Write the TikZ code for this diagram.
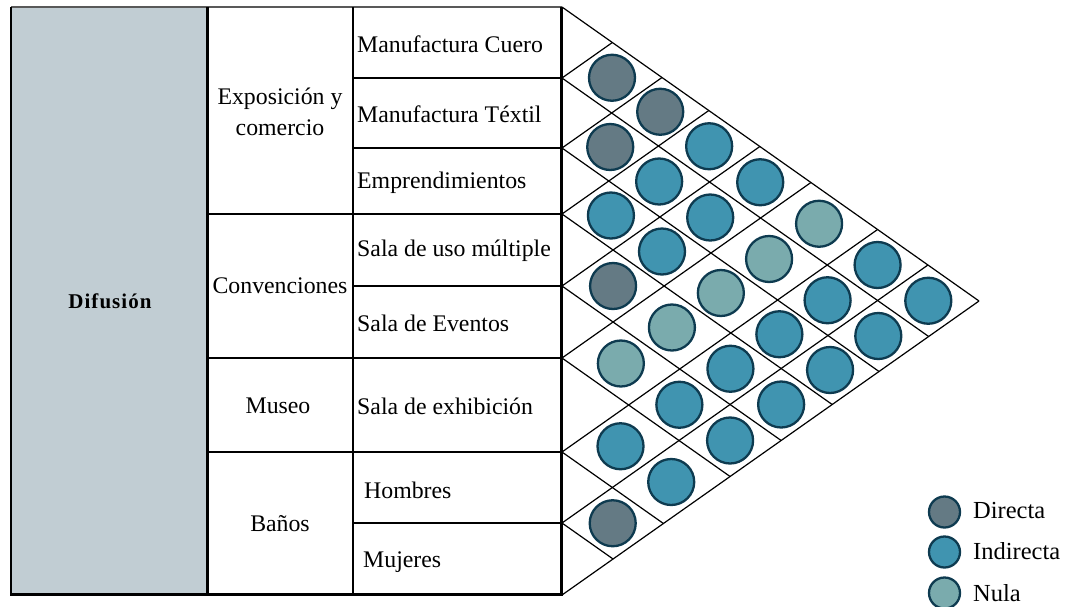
\documentclass[tikz,border=0pt]{standalone}
\usepackage{fontspec}
\setmainfont{Liberation Serif}
\newfontfamily\spacedfont[LetterSpace=5]{Liberation Serif}
\definecolor{colgray}{HTML}{C1CDD3}
\definecolor{cdir}{HTML}{647A84}
\definecolor{cind}{HTML}{4094B0}
\definecolor{cnul}{HTML}{7AABAD}
\definecolor{cedge}{HTML}{0E3B50}
\begin{document}
\begin{tikzpicture}[x=1pt,y=-1pt,
  every node/.style={font=\fontsize{23.8}{31}\selectfont, inner sep=0pt},
  thin line/.style={line width=1.2pt, draw=black},
  thick line/.style={line width=3pt, draw=black},
  gridline/.style={line width=1.2pt, draw=black},
  dot/.style={circle, minimum size=46pt, inner sep=0pt, line width=2.3pt, draw=cedge},
  legdot/.style={circle, minimum size=31pt, inner sep=0pt, line width=2.3pt, draw=cedge},
  dir/.style={dot, fill=cdir},
  ind/.style={dot, fill=cind},
  nul/.style={dot, fill=cnul},
  label text/.style={anchor=west},
  legend text/.style={anchor=west, font=\fontsize{24.5}{28}\selectfont},
]
\useasboundingbox (0,0) rectangle (1072,606);
% gray column
\fill[colgray] (11,7) rectangle (206,594);
\draw[line width=1.2pt, draw=black!65] (11,7) -- (562,7);
\draw[line width=1.6pt] (11,7) -- (11,594);
% column cells
\draw[thin line] (207,214) -- (353,214);
\draw[thin line] (207,358) -- (353,358);
\draw[thin line] (207,452) -- (353,452);
\draw[thin line] (353,7) -- (353,594);
\foreach \y in {78,148,214,286,358,452,523}
  \draw[thin line] (353,\y) -- (562,\y);
\draw[thick line] (207,7) -- (207,594);
\draw[thick line] (561,7) -- (561,596);
\draw[thick line] (10,594.5) -- (562.5,594.5);

% texts
\node[font=\spacedfont\bfseries\fontsize{21}{25}\selectfont] (dif) at (110,301) {Difusión};
\node[align=center] (expo) at (280,112) {Exposición y\\comercio};
\node (conv) at (280,286) {Convenciones};
\node (museo) at (278,406) {Museo};
\node (banos) at (280,524) {Baños};
\node[label text] (r1) at (357,44) {Manufactura Cuero};
\node[label text] (r2) at (357,114) {Manufactura Téxtil};
\node[label text] (r3) at (357,183) {Emprendimientos};
\node[label text] (r4) at (357,251) {Sala de uso múltiple};
\node[label text] (r5) at (357,323) {Sala de Eventos};
\node[label text] (r6) at (357,406) {Sala de exhibición};
\node[label text] (r7) at (364,490) {Hombres};
\node[label text] (r8) at (363,562) {Mujeres};

% triangular correlation grid
\def\Ys{{7,78,148,214,286,358,452,523,595}}
\foreach \i in {0,...,7}{
  \pgfmathsetmacro\yi{\Ys[\i]}
  \draw[gridline] (562,\yi) -- ({562+(595-\yi)/1.41007},{(\yi+595)/2});
}
\foreach \j in {1,...,8}{
  \pgfmathsetmacro\yj{\Ys[\j]}
  \draw[gridline] (562,\yj) -- ({562+(\yj-7)/1.41007},{(\yj+7)/2});
}

% circles
\foreach \a/\b/\t in {1/2/dir,2/3/dir,3/4/ind,4/5/dir,5/6/nul,6/7/ind,7/8/dir,
  1/3/dir,2/4/ind,3/5/ind,4/6/nul,5/7/ind,6/8/ind,
  1/4/ind,2/5/ind,3/6/nul,4/7/ind,5/8/ind,
  1/5/ind,2/6/nul,3/7/ind,4/8/ind,
  1/6/nul,2/7/ind,3/8/ind,
  1/7/ind,2/8/ind,
  1/8/ind}{
  \pgfmathtruncatemacro\ap{\a-1}
  \pgfmathtruncatemacro\bp{\b-1}
  \pgfmathsetmacro\yap{\Ys[\ap]}
  \pgfmathsetmacro\yaa{\Ys[\a]}
  \pgfmathsetmacro\ybp{\Ys[\bp]}
  \pgfmathsetmacro\ybb{\Ys[\b]}
  \pgfmathsetmacro\ma{(\yap+\yaa)/2}
  \pgfmathsetmacro\mb{(\ybp+\ybb)/2}
  \node[\t] (c\a\b) at ({562+(\mb-\ma)/1.41007},{(\ma+\mb)/2}) {};
}

% legend
\node[legdot, fill=cdir] (ldir) at (944.5,512) {};
\node[legdot, fill=cind] (lind) at (944.5,552) {};
\node[legdot, fill=cnul] (lnul) at (944.5,593) {};
\node[legend text] (tdir) at (973,511) {Directa};
\node[legend text] (tind) at (973,551) {Indirecta};
\node[legend text] (tnul) at (973,593) {Nula};
\end{tikzpicture}
\end{document}
